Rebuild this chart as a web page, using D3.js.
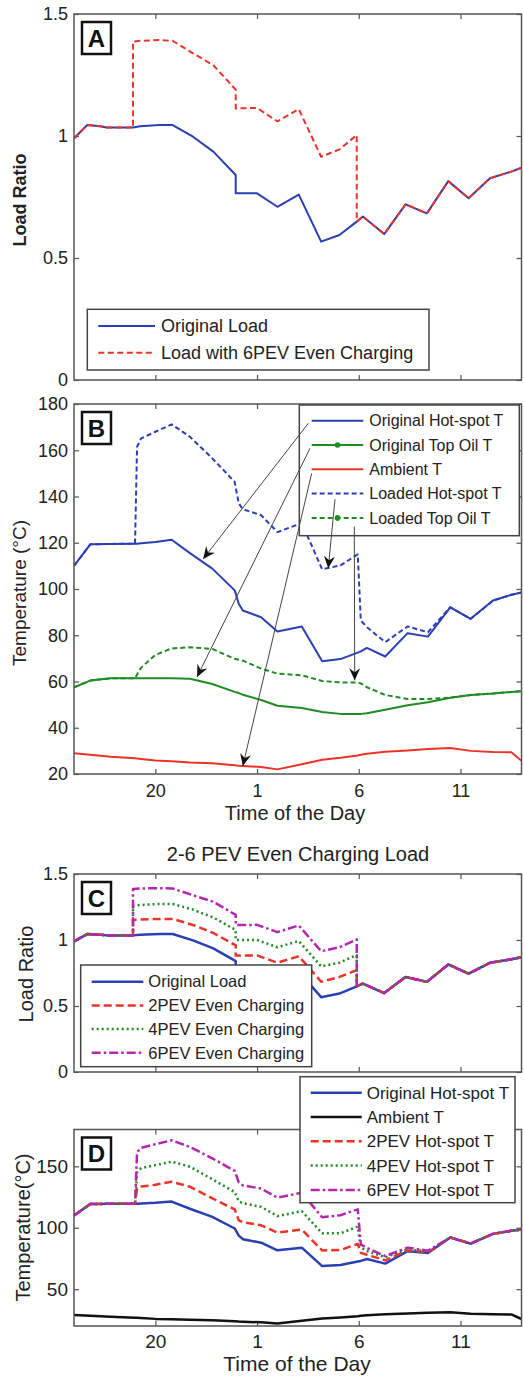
<!DOCTYPE html>
<html>
<head>
<meta charset="utf-8">
<script src="https://cdn.jsdelivr.net/npm/d3@7"></script>
<style>
  body { margin: 0; background: #fff; }
  svg text { font-family: "Liberation Sans", Arial, sans-serif; fill: #222; }
</style>
</head>
<body>
<script>
// hours on a running clock that starts at 16:00 (25 = 1:00 next morning)
var hourTicks = [20, 25, 30, 35];
var hourLabels = ["20", "1", "6", "11"];

// ---- load ratio, panels A and C (repeated hours = vertical steps) ----
var loadHours = [16, 16.65, 17.3, 17.6, 18.9, 18.9, 19.25, 20.2, 20.85, 21.85, 22.85, 23.95, 23.95, 25, 26,
                 27.05, 28.15, 29.05, 29.9, 29.9, 30.2, 31.25, 32.3, 33.35, 34.4, 35.4, 36.45, 37.5, 38];
var originalLoad = [0.99, 1.045, 1.04, 1.035, 1.035, 1.035, 1.04, 1.045, 1.045, 0.997, 0.936, 0.84, 0.765, 0.765, 0.71,
                    0.76, 0.567, 0.594, 0.649, 0.649, 0.67, 0.598, 0.72, 0.683, 0.815, 0.745, 0.827, 0.854, 0.87];
var load2PEV = [0.99, 1.045, 1.04, 1.035, 1.035, 1.152, 1.156, 1.16, 1.16, 1.114, 1.053, 0.96, 0.883, 0.883, 0.828,
                0.877, 0.684, 0.72, 0.772, 0.649, 0.67, 0.598, 0.72, 0.683, 0.815, 0.745, 0.827, 0.854, 0.87];
var load4PEV = [0.99, 1.045, 1.04, 1.035, 1.035, 1.258, 1.265, 1.273, 1.273, 1.23, 1.17, 1.076, 1.0, 1.0, 0.945,
                0.992, 0.80, 0.828, 0.886, 0.649, 0.67, 0.598, 0.72, 0.683, 0.815, 0.745, 0.827, 0.854, 0.87];
var load6PEV = [0.99, 1.045, 1.04, 1.035, 1.035, 1.387, 1.39, 1.393, 1.39, 1.339, 1.29, 1.19, 1.113, 1.115, 1.06,
                1.11, 0.915, 0.945, 1.004, 0.649, 0.67, 0.598, 0.72, 0.683, 0.815, 0.745, 0.827, 0.854, 0.87];

// ---- temperatures in degC, panels B and D ----
var tempHours = [16, 16.8, 17.8, 19.0, 19.1, 19.3, 20.0, 20.8, 21.7, 22.8, 23.9, 24.1, 24.3, 25.2, 26.0,
                 27.2, 28.2, 29.1, 29.95, 30.1, 30.4, 31.3, 32.4, 33.4, 34.5, 35.5, 36.6, 37.5, 38];
var originalHotSpot = [110, 119.3, 119.5, 119.6, 119.6, 119.8, 120.3, 121.3, 115.5, 108.8, 99.4, 93.6, 90.7, 87.8, 81.6,
                       83.8, 68.8, 69.7, 72.5, 73, 74.5, 70.8, 80.9, 79.4, 92.1, 87.1, 95, 97.5, 98.5];
var hotSpot2PEV = [110, 119.3, 119.5, 119.6, 132, 133.5, 135, 137.5, 133.4, 124, 115, 106, 104.5, 102, 96,
                   98.5, 81.5, 81.9, 86.8, 79.5, 78, 73.5, 81.5, 80, 92.1, 87.1, 95, 97.5, 98.5];
var hotSpot4PEV = [110, 119.3, 119.5, 119.6, 145, 148.5, 151, 153.8, 149.7, 139.5, 129, 121.5, 120, 117, 109.5,
                   113.5, 95.5, 95.5, 100.9, 84, 81, 76, 82.5, 80.8, 92.1, 87.1, 95, 97.5, 98.5];
// loaded hot-spot = 6PEV hot-spot
var hotSpot6PEV = [110, 119.3, 119.5, 119.6, 161.5, 165.1, 168, 171.2, 165.8, 156.5, 146.3, 137, 134.5, 131.9, 124.6,
                   128.5, 108.5, 110.2, 115, 86.4, 83.5, 77, 83.8, 81.3, 92.1, 87.1, 95, 97.5, 98.5];
var originalTopOil = [57.5, 60.4, 61.4, 61.4, 61.4, 61.4, 61.4, 61.4, 61.2, 58.9, 55.5, 55, 54.3, 52, 49.5,
                      48.5, 46.8, 46, 46, 46, 46.3, 47.8, 49.7, 51, 53, 54.2, 54.8, 55.5, 55.8];
var loadedTopOil = [57.5, 60.4, 61.4, 61.4, 63, 66, 71.5, 74.3, 74.8, 74.1, 69.8, 69.4, 69, 65.6, 63.4,
                    62.7, 60.2, 59.6, 59.6, 59.2, 57.5, 54.2, 52.4, 52.4, 53, 54.2, 54.8, 55.5, 55.8];
var ambientT = [29, 28.3, 27.5, 26.8, 26.7, 26.5, 25.8, 25.5, 25, 24.7, 23.8, 23.6, 23.5, 23, 22,
                24.2, 26.2, 27, 28, 28.3, 28.8, 29.6, 30.2, 30.8, 31.2, 30, 29.5, 29.4, 25.7];

var W = 524, H = 1378;
var left = 74, right = 521.5;

var blue = "#2b3fb2", red = "#eb3328", green = "#1f8b22", magenta = "#b326b3", black = "#111";

var svg = d3.select("body").append("svg").attr("width", W).attr("height", H);
var x = d3.scaleLinear().domain([16, 38]).range([left, right]);

function styleAxis(sel, fs) {
    sel.attr("font-family", null).attr("font-size", fs);
    sel.select(".domain").remove();
    sel.selectAll(".tick line").attr("stroke", "#555").attr("stroke-width", 1.2);
    sel.selectAll(".tick text").attr("fill", "#222");
}

function makePanel(id, top, bottom, domain, ticks, fs, xLabelPad) {
    var p = { top: top, bottom: bottom };
    p.y = d3.scaleLinear().domain(domain).range([bottom, top]);
    p.g = svg.append("g");

    p.g.append("g").attr("transform", "translate(" + left + ",0)")
        .call(d3.axisLeft(p.y).tickValues(ticks).tickFormat(d3.format(""))
            .tickSizeInner(-5).tickSizeOuter(0).tickPadding(6))
        .call(styleAxis, fs);
    p.g.append("g").attr("transform", "translate(" + right + ",0)")
        .call(d3.axisRight(p.y).tickValues(ticks).tickFormat(function() { return ""; })
            .tickSizeInner(-5).tickSizeOuter(0))
        .call(styleAxis, fs);
    p.g.append("g").attr("transform", "translate(0," + top + ")")
        .call(d3.axisTop(x).tickValues(hourTicks).tickFormat(function() { return ""; })
            .tickSizeInner(-5).tickSizeOuter(0))
        .call(styleAxis, fs);
    p.g.append("g").attr("transform", "translate(0," + bottom + ")")
        .call(d3.axisBottom(x).tickValues(hourTicks)
            .tickFormat(function(d, i) { return xLabelPad ? hourLabels[i] : ""; })
            .tickSizeInner(-5).tickSizeOuter(0).tickPadding(xLabelPad || 3))
        .call(styleAxis, fs);

    svg.append("clipPath").attr("id", "clip" + id).append("rect")
        .attr("x", left).attr("y", top).attr("width", right - left).attr("height", bottom - top);
    p.plot = p.g.append("g").attr("clip-path", "url(#clip" + id + ")");
    return p;
}

function addLine(p, hours, vals, color, dash, width) {
    var line = d3.line().x(function(d) { return x(d[0]); }).y(function(d) { return p.y(d[1]); });
    p.plot.append("path")
        .datum(d3.zip(hours, vals))
        .attr("d", line)
        .attr("fill", "none")
        .attr("stroke", color)
        .attr("stroke-width", width)
        .attr("stroke-dasharray", dash)
        .attr("stroke-linejoin", "round");
}

function frame(p, letter) {
    p.g.append("rect").attr("x", left).attr("y", p.top)
        .attr("width", right - left).attr("height", p.bottom - p.top)
        .attr("fill", "none").attr("stroke", "#555").attr("stroke-width", 1.5);
    p.g.append("rect").attr("x", left + 8).attr("y", p.top + 8).attr("width", 29).attr("height", 32)
        .attr("fill", "#fff").attr("stroke", "#111").attr("stroke-width", 2.5);
    p.g.append("text").attr("x", left + 22.5).attr("y", p.top + 24).attr("dy", "0.36em")
        .attr("text-anchor", "middle").attr("font-size", 24).attr("font-weight", "bold")
        .style("fill", "#111").text(letter);
}

function legend(box, entries, rowY, rowStep, lineX0, lineX1, textX, fs) {
    var g = svg.append("g");
    g.append("rect").attr("x", box[0]).attr("y", box[1]).attr("width", box[2]).attr("height", box[3])
        .attr("fill", "#fff").attr("stroke", "#444").attr("stroke-width", 1.5);
    entries.forEach(function(e, i) {
        var yy = rowY + i * rowStep;
        g.append("line").attr("x1", lineX0).attr("x2", lineX1).attr("y1", yy).attr("y2", yy)
            .attr("stroke", e.color).attr("stroke-width", e.width).attr("stroke-dasharray", e.dash);
        if (e.marker) {
            g.append("circle").attr("cx", (lineX0 + lineX1) / 2).attr("cy", yy).attr("r", 2.8).attr("fill", e.color);
        }
        g.append("text").attr("x", textX).attr("y", yy).attr("dy", "0.35em").attr("font-size", fs).text(e.label);
    });
}

function axisTitle(cx, cy, txt, fs, rotate, bold) {
    svg.append("text")
        .attr("transform", "translate(" + cx + "," + cy + ")" + (rotate ? " rotate(-90)" : ""))
        .attr("text-anchor", "middle").attr("dy", "0.35em")
        .attr("font-size", fs).attr("font-weight", bold ? "bold" : null)
        .text(txt);
}

// ---------------- Panel A ----------------
var pA = makePanel("A", 14, 380, [0, 1.5], [0, 0.5, 1, 1.5], 18, 0);
addLine(pA, loadHours, originalLoad, blue, null, 2);
addLine(pA, loadHours, load6PEV, red, "6,3.5", 2);
frame(pA, "A");
legend([87.3, 309.3, 341.7, 60.7], [
    { label: "Original Load", color: blue, width: 2 },
    { label: "Load with 6PEV Even Charging", color: red, width: 2, dash: "6,3.5" }
], 326, 26.7, 98.3, 155, 161, 18);
axisTitle(19.5, 200, "Load Ratio", 18, true, true);

// ---------------- Panel B ----------------
var pB = makePanel("B", 404, 774, [20, 180], [20, 40, 60, 80, 100, 120, 140, 160, 180], 18, 10);
addLine(pB, tempHours, ambientT, red, null, 2);
addLine(pB, tempHours, originalTopOil, green, null, 2);
addLine(pB, tempHours, loadedTopOil, green, "5,3", 2);
addLine(pB, tempHours, originalHotSpot, blue, null, 2);
addLine(pB, tempHours, hotSpot6PEV, blue, "5,3", 2);
frame(pB, "B");
var legB = { x: 299.3, y: 405, rowY: 420.7, step: 24.3 };
legend([legB.x, legB.y, 220, 130.7], [
    { label: "Original Hot-spot T", color: blue, width: 2 },
    { label: "Original Top Oil T", color: green, width: 2, marker: true },
    { label: "Ambient T", color: red, width: 2 },
    { label: "Loaded Hot-spot T", color: blue, width: 2, dash: "5,3" },
    { label: "Loaded Top Oil T", color: green, width: 2, dash: "5,3", marker: true }
], legB.rowY, legB.step, 311.7, 363.3, 369.3, 16);
axisTitle(19.5, 593, "Temperature (\u00B0C)", 19, true);
axisTitle(295, 813, "Time of the Day", 20, false);

// arrows from legend rows to the curves (tip in hours / degC)
var arrows = [
    { row: 0, dx: 9, dy: 2.6, tip: [22.35, 113] },
    { row: 1, dx: 10.7, dy: 3.3, tip: [22.05, 62] },
    { row: 2, dx: 12.4, dy: 4, tip: [24.3, 23.5] },
    { row: 3, dx: 35.7, dy: 5.6, tip: [28.5, 109] },
    { row: 4, dx: 55, dy: 8.7, tip: [29.8, 60.5] }
];
arrows.forEach(function(a) {
    var sx = legB.x + a.dx, sy = legB.rowY + a.row * legB.step + a.dy;
    var tx = x(a.tip[0]), ty = pB.y(a.tip[1]);
    var ang = Math.atan2(ty - sy, tx - sx) * 180 / Math.PI;
    svg.append("line").attr("x1", sx).attr("y1", sy).attr("x2", tx).attr("y2", ty)
        .attr("stroke", "#444").attr("stroke-width", 1);
    svg.append("path").attr("d", "M0,0L-12,-5.5L-8,0L-12,5.5Z")
        .attr("transform", "translate(" + tx + "," + ty + ") rotate(" + ang + ")")
        .attr("fill", "#111");
});

// ---------------- Panel C ----------------
svg.append("text").attr("x", 298).attr("y", 854).attr("dy", "0.35em").attr("text-anchor", "middle")
    .attr("font-size", 20).text("2-6 PEV Even Charging Load");
var pC = makePanel("C", 874, 1072, [0, 1.5], [0, 0.5, 1, 1.5], 18, 0);
addLine(pC, loadHours, originalLoad, blue, null, 2.5);
addLine(pC, loadHours, load2PEV, red, "8,4", 2.5);
addLine(pC, loadHours, load4PEV, green, "2,3", 2.5);
addLine(pC, loadHours, load6PEV, magenta, "9,3,2.5,3", 2.5);
frame(pC, "C");
legend([80.7, 965, 231, 101.7], [
    { label: "Original Load", color: blue, width: 2.5 },
    { label: "2PEV Even Charging", color: red, width: 2.5, dash: "8,4" },
    { label: "4PEV Even Charging", color: green, width: 2.5, dash: "2,3" },
    { label: "6PEV Even Charging", color: magenta, width: 2.5, dash: "9,3,2.5,3" }
], 981.7, 23.7, 91.7, 143.3, 148.3, 16.5);
axisTitle(26, 974, "Load Ratio", 20, true);

// ---------------- Panel D ----------------
var pD = makePanel("D", 1129.5, 1326, [20, 180], [50, 100, 150], 19, 9);
addLine(pD, tempHours, originalHotSpot, blue, null, 2.5);
addLine(pD, tempHours, ambientT, black, null, 2.5);
addLine(pD, tempHours, hotSpot2PEV, red, "8,4", 2.5);
addLine(pD, tempHours, hotSpot4PEV, green, "2,3", 2.5);
addLine(pD, tempHours, hotSpot6PEV, magenta, "9,3,2.5,3", 2.5);
frame(pD, "D");
legend([300, 1076.7, 215, 126], [
    { label: "Original Hot-spot T", color: blue, width: 2.5 },
    { label: "Ambient T", color: black, width: 2.5 },
    { label: "2PEV Hot-spot T", color: red, width: 2.5, dash: "8,4" },
    { label: "4PEV Hot-spot T", color: green, width: 2.5, dash: "2,3" },
    { label: "6PEV Hot-spot T", color: magenta, width: 2.5, dash: "9,3,2.5,3" }
], 1092.7, 24.3, 310.7, 361.7, 366.7, 17);
axisTitle(22.5, 1227.5, "Temperature(\u00B0C)", 20, true);
axisTitle(297, 1364, "Time of the Day", 21, false);
</script>
</body>
</html>
